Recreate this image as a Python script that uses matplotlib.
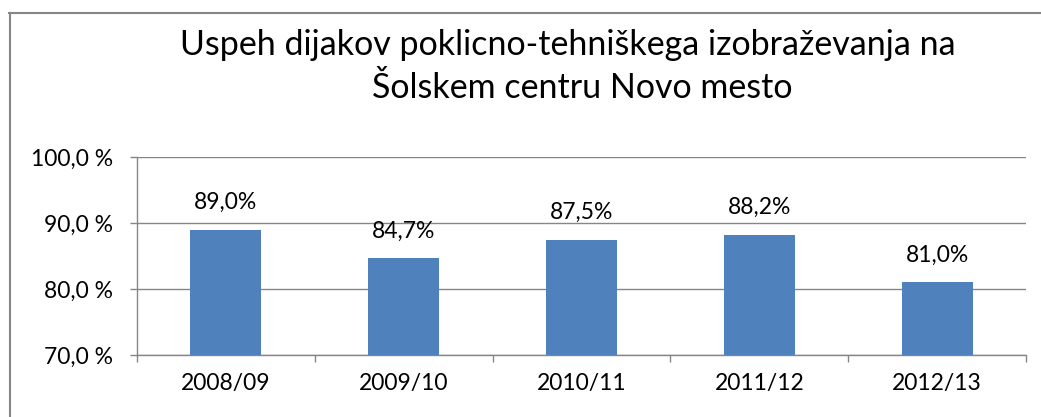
import matplotlib
matplotlib.use("Agg")
import matplotlib.pyplot as plt
from matplotlib.lines import Line2D
import numpy as np

categories = ["2008/09", "2009/10", "2010/11", "2011/12", "2012/13"]
values = [89.0, 84.7, 87.5, 88.2, 81.0]
yticks = [70, 80, 90, 100]
title_lines = ["Uspeh dijakov poklicno-tehniškega izobraževanja na",
               "Šolskem centru Novo mesto"]

plt.rcParams['font.family'] = ['Lato', 'DejaVu Sans']

fig = plt.figure(figsize=(10.41, 4.17), dpi=100)
ax = fig.add_axes([137/1041, 62/417, 889/1041, 198/417])

x = np.arange(len(categories))
ax.bar(x, values, width=0.4, color="#4F81BD", bottom=0, zorder=3)
ax.set_ylim(70, 100)
ax.set_xlim(-0.5, len(categories) - 0.5)
ax.set_yticks(yticks)
ax.set_yticklabels([f"{v:.1f} %".replace(".", ",") for v in yticks], fontsize=16.5)
ax.set_xticks(x)
ax.set_xticklabels(categories, fontsize=16.5)
ax.tick_params(axis='x', length=0, pad=13)
ax.tick_params(axis='y', length=5, width=1, color="#868686", pad=12)
ax.set_xticks(np.arange(-0.5, len(categories), 1.0), minor=True)
ax.tick_params(axis='x', which='minor', length=5, width=1, color="#868686")
ax.grid(axis='y', color="#868686", linewidth=1, zorder=0)
for s in ['top', 'right']:
    ax.spines[s].set_visible(False)
for s in ['left', 'bottom']:
    ax.spines[s].set_color("#868686")
    ax.spines[s].set_linewidth(1)

for xi, v in zip(x, values):
    ax.annotate(f"{v:.1f}%".replace(".", ","), (xi, v), xytext=(0, 19.5),
                textcoords="offset points", ha="center", va="center", fontsize=16.5)

fig.text(568/1041, 1 - 45/417, title_lines[0], ha="center", va="center", fontsize=24.5)
fig.text(582/1041, 1 - 88/417, title_lines[1], ha="center", va="center", fontsize=24.5)

fig.add_artist(Line2D([9/1041, 1.0], [1 - 12.5/417, 1 - 12.5/417], color="#868686",
                      linewidth=1.5, transform=fig.transFigure))
fig.add_artist(Line2D([9.5/1041, 9.5/1041], [0, 1 - 12.5/417], color="#868686",
                      linewidth=1.5, transform=fig.transFigure))

fig.savefig("out.png", dpi=100)
